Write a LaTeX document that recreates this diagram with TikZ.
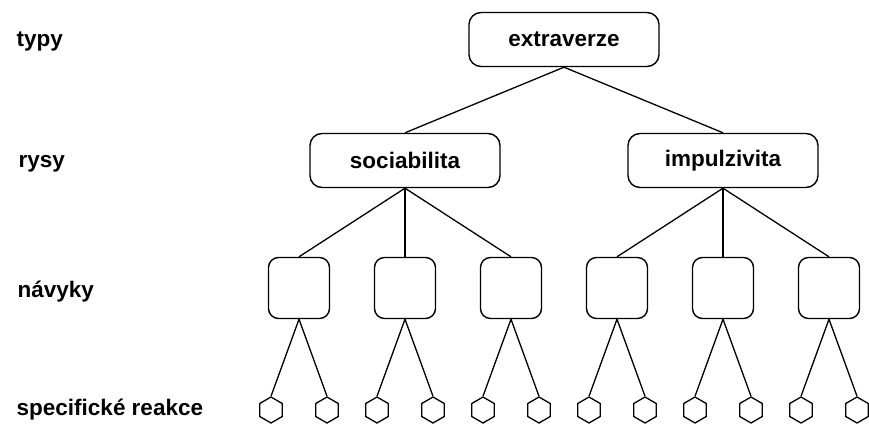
\documentclass[tikz,border=0pt]{standalone}
\usepackage{fontspec}
\setmainfont{Liberation Sans}
\usetikzlibrary{shapes.geometric}
\begin{document}
\begin{tikzpicture}[x=1pt,y=-1pt,
  line width=1.4pt,
  txt/.style={font=\fontsize{22.5}{26}\selectfont\bfseries},
  bigbox/.style={draw, rounded corners=12pt, minimum width=190pt, minimum height=54pt, inner sep=0pt, txt},
  smallbox/.style={draw, rounded corners=10pt, minimum width=61pt, minimum height=61pt, inner sep=0pt},
  hex/.style={draw, regular polygon, regular polygon sides=6, shape border rotate=30, minimum size=26pt, inner sep=0pt, line width=1.3pt},
  lbl/.style={txt, anchor=base west, inner sep=0pt},
  conn/.style={line width=1.3pt}]
\useasboundingbox (0,0) rectangle (869,425);
% level labels
\node[lbl] (l1) at (16,47) {typy};
\node[lbl] (l2) at (18,167) {rysy};
\node[lbl] (l3) at (17,297) {návyky};
\node[lbl] (l4) at (16,415) {specifické reakce};
% boxes
\node[bigbox] (ex) at (564,39.5) {extraverze};
\node[bigbox] (so) at (405,160.5) {sociabilita};
\node[bigbox] (im) at (723,160.5) {impulzivita};
\foreach \i/\x in {1/299,2/405,3/511,4/617,5/723,6/829}{
  \node[smallbox] (h\i) at (\x,288) {};
  \node[hex] (a\i) at (\x-28,410) {};
  \node[hex] (b\i) at (\x+28,410) {};
  \draw[conn] (h\i.south) -- (a\i.north);
  \draw[conn] (h\i.south) -- (b\i.north);
}
\draw[conn] (ex.south) -- (so.north);
\draw[conn] (ex.south) -- (im.north);
\foreach \i in {1,2,3}{ \draw[conn] (so.south) -- (h\i.north); }
\foreach \i in {4,5,6}{ \draw[conn] (im.south) -- (h\i.north); }
\end{tikzpicture}
\end{document}
